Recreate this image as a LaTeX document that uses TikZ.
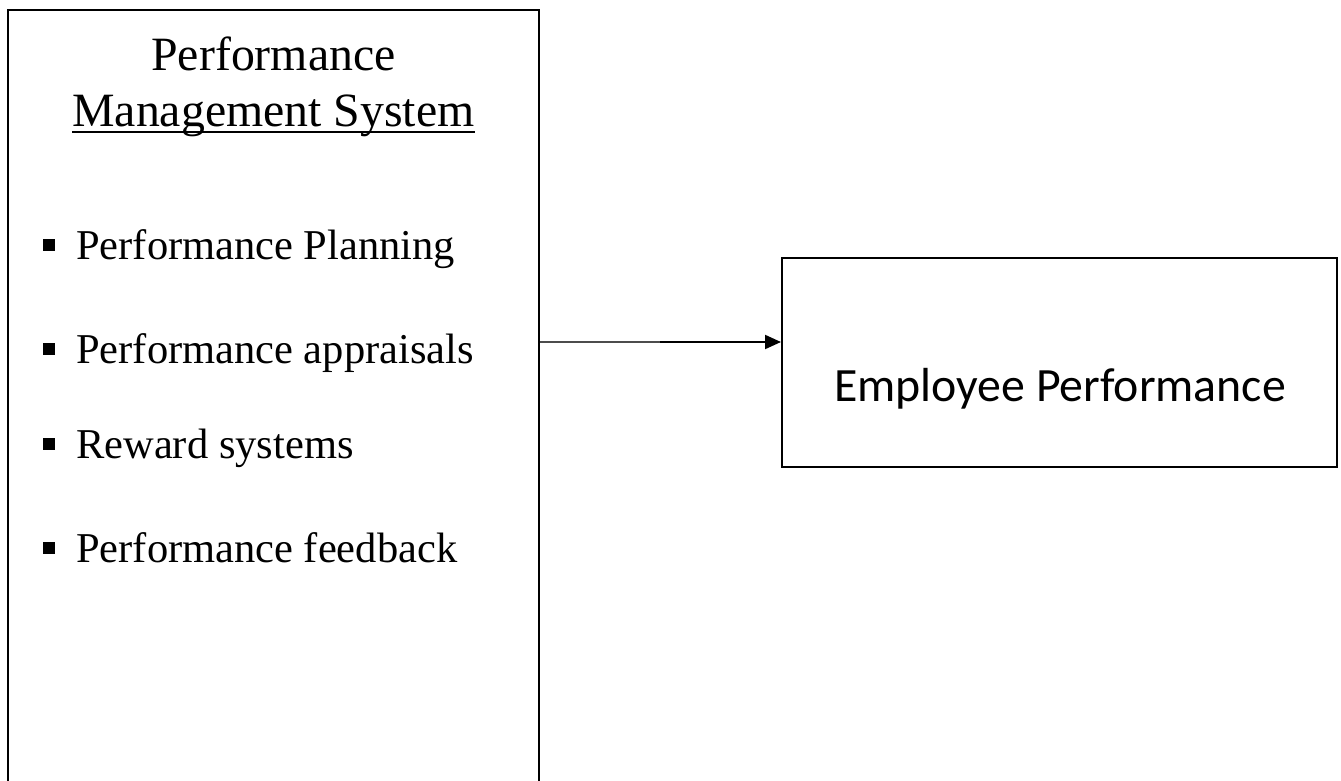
\documentclass[tikz,border=0pt]{standalone}
\usepackage{fontspec}
\setmainfont{Liberation Serif}
\newfontfamily\carlito{Carlito}
\usetikzlibrary{arrows.meta}
\begin{document}
\begin{tikzpicture}[x=1pt,y=-1pt,
  frame/.style={draw, line width=2pt, rectangle, inner sep=0pt},
  titletext/.style={inner sep=0pt, anchor=base, font=\fontsize{47.8}{57}\selectfont},
  itemtext/.style={inner sep=0pt, anchor=base west, font=\fontsize{42.5}{51}\selectfont},
  bulletsq/.style={fill, rectangle, inner sep=0pt, minimum size=12pt},
  boxtext/.style={inner sep=0pt, anchor=base, font=\carlito\fontsize{47.8}{57}\selectfont},
  ]
\useasboundingbox (0,0) rectangle (1341,781);
\clip (0,0) rectangle (1341,781);
\fill[white] (0,0) rectangle (1341,781);

% left box (runs past the lower edge)
\node[frame, minimum width=531pt, minimum height=830pt] (pms) at (273.5,425) {};
% right box
\node[frame, minimum width=555pt, minimum height=209pt] (emp) at (1059.5,362.5) {};

% heading
\node[titletext] (t1) at (273.5,71) {Performance};
\node[titletext] (t2) at (273.5,127) {Management System};
\draw[line width=2pt] ([yshift=-5pt]t2.base west) -- ([yshift=-5pt]t2.base east);

% bullet list
\node[bulletsq] (b1) at (49,245) {};
\node[itemtext] (i1) at (76,259) {Performance Planning};
\node[bulletsq] (b2) at (49,349) {};
\node[itemtext] (i2) at (76,363) {Performance appraisals};
\node[bulletsq] (b3) at (49,444) {};
\node[itemtext] (i3) at (76,458) {Reward systems};
\node[bulletsq] (b4) at (49,548) {};
\node[itemtext] (i4) at (76,562) {Performance feedback};

% right box label
\node[boxtext] (emplabel) at (1060,401) {Employee Performance};

% connector
\coordinate (split) at (660,342);
\draw[line width=1.5pt, gray!60!black] (pms.east |- split) -- (split);
\draw[line width=2pt, -{Triangle[length=16pt,width=14pt]}] (split) -- (split -| emp.west);
\end{tikzpicture}
\end{document}
